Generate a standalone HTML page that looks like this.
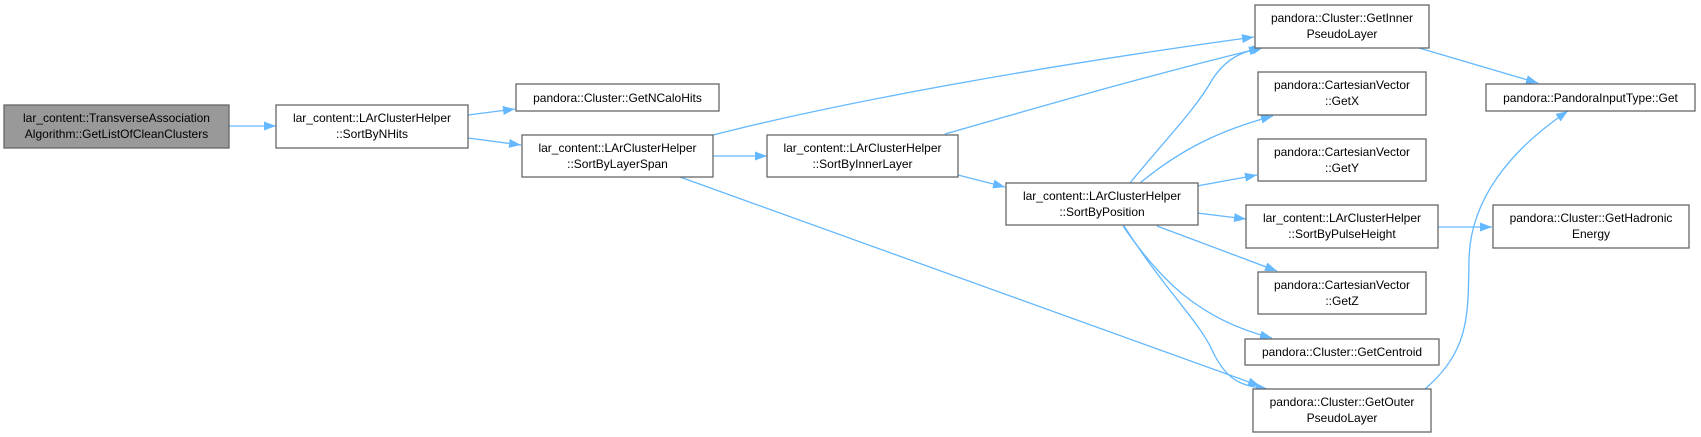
<!DOCTYPE html>
<html><head><meta charset="utf-8"><style>
html,body{margin:0;padding:0;background:#fff;}
svg{display:block;}
text{font-family:"Liberation Sans",Arial,sans-serif;font-size:12px;fill:#000;}
.n{fill:#fff;stroke:#666;stroke-width:1.3;}
.e{fill:none;stroke:#63b8ff;stroke-width:1.3;}
</style></head><body>
<svg width="1701" height="437" viewBox="0 0 1701 437" xmlns="http://www.w3.org/2000/svg">
<defs>
<marker id="a" viewBox="0 0 12 9" refX="12" refY="4.5" markerWidth="12" markerHeight="9" markerUnits="userSpaceOnUse" orient="auto">
<path d="M0,0 L12,4.5 L0,9 z" fill="#63b8ff"/>
</marker>
</defs>
<g class="e" marker-end="url(#a)">
<path d="M229,126 L276,126"/>
<path d="M468,115 L515,109"/>
<path d="M468,138 L521,145"/>
<path d="M713,135 C850,100 1050,65 1254,37"/>
<path d="M713,156 L767,156"/>
<path d="M680,177 L1260,386"/>
<path d="M945,134 C1050,104 1150,75 1261,48"/>
<path d="M958,175 L1005,187"/>
<path d="M1130,183 C1165,140 1195,110 1212,80 C1228,55 1245,52 1264,47"/>
<path d="M1140,183 C1180,150 1220,130 1273,116"/>
<path d="M1197,186 L1257,175"/>
<path d="M1197,213 L1246,219"/>
<path d="M1157,226 L1277,271"/>
<path d="M1123,226 C1160,280 1200,320 1272,338"/>
<path d="M1124,226 C1165,290 1198,320 1212,350 C1226,380 1240,386 1268,389"/>
<path d="M1438,227 L1492,227"/>
<path d="M1419,48 L1538,83"/>
<path d="M1425,389 C1470,350 1468,315 1469,260 C1470,200 1510,150 1568,111"/>
</g>
<rect x="4" y="105" width="225" height="43" fill="#999" stroke="#666" stroke-width="1.3"/>
<text x="116.5" y="122" text-anchor="middle">lar_content::TransverseAssociation</text>
<text x="116.5" y="138" text-anchor="middle">Algorithm::GetListOfCleanClusters</text>

<rect class="n" x="276" y="105" width="192" height="43"/>
<text x="372" y="122" text-anchor="middle">lar_content::LArClusterHelper</text>
<text x="372" y="138" text-anchor="middle">::SortByNHits</text>

<rect class="n" x="516" y="84" width="203" height="27"/>
<text x="617.5" y="102" text-anchor="middle">pandora::Cluster::GetNCaloHits</text>

<rect class="n" x="522" y="135" width="191" height="42"/>
<text x="617.5" y="152" text-anchor="middle">lar_content::LArClusterHelper</text>
<text x="617.5" y="168" text-anchor="middle">::SortByLayerSpan</text>

<rect class="n" x="767" y="135" width="191" height="42"/>
<text x="862.5" y="152" text-anchor="middle">lar_content::LArClusterHelper</text>
<text x="862.5" y="168" text-anchor="middle">::SortByInnerLayer</text>

<rect class="n" x="1006" y="183" width="192" height="42"/>
<text x="1102" y="200" text-anchor="middle">lar_content::LArClusterHelper</text>
<text x="1102" y="216" text-anchor="middle">::SortByPosition</text>

<rect class="n" x="1255" y="5" width="174" height="43"/>
<text x="1342" y="22" text-anchor="middle">pandora::Cluster::GetInner</text>
<text x="1342" y="38" text-anchor="middle">PseudoLayer</text>

<rect class="n" x="1258" y="72" width="168" height="43"/>
<text x="1342" y="89" text-anchor="middle">pandora::CartesianVector</text>
<text x="1342" y="105" text-anchor="middle">::GetX</text>

<rect class="n" x="1258" y="139" width="168" height="42"/>
<text x="1342" y="156" text-anchor="middle">pandora::CartesianVector</text>
<text x="1342" y="172" text-anchor="middle">::GetY</text>

<rect class="n" x="1246" y="205" width="192" height="43"/>
<text x="1342" y="222" text-anchor="middle">lar_content::LArClusterHelper</text>
<text x="1342" y="238" text-anchor="middle">::SortByPulseHeight</text>

<rect class="n" x="1258" y="272" width="168" height="42"/>
<text x="1342" y="289" text-anchor="middle">pandora::CartesianVector</text>
<text x="1342" y="305" text-anchor="middle">::GetZ</text>

<rect class="n" x="1245" y="339" width="194" height="26"/>
<text x="1342" y="356" text-anchor="middle">pandora::Cluster::GetCentroid</text>

<rect class="n" x="1253" y="389" width="178" height="43"/>
<text x="1342" y="406" text-anchor="middle">pandora::Cluster::GetOuter</text>
<text x="1342" y="422" text-anchor="middle">PseudoLayer</text>

<rect class="n" x="1486" y="84" width="209" height="27"/>
<text x="1590.5" y="102" text-anchor="middle">pandora::PandoraInputType::Get</text>

<rect class="n" x="1493" y="205" width="196" height="43"/>
<text x="1591" y="222" text-anchor="middle">pandora::Cluster::GetHadronic</text>
<text x="1591" y="238" text-anchor="middle">Energy</text>
</svg>
</body></html>
